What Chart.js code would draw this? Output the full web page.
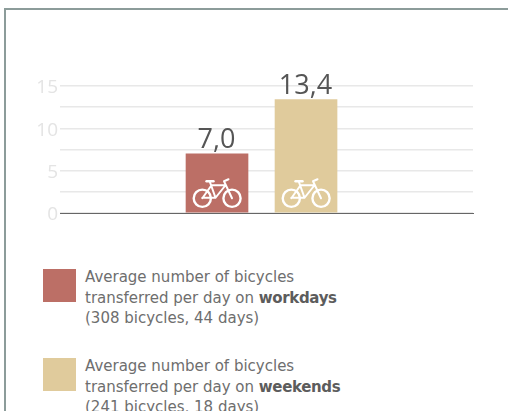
<!DOCTYPE html>
<html>
<head>
<meta charset="utf-8">
<script src="https://cdn.jsdelivr.net/npm/chart.js@4"></script>
<style>
  html, body { margin: 0; padding: 0; background: #fff; overflow: hidden; }
  body { width: 508px; height: 411px; position: relative; font-family: "DejaVu Sans", sans-serif; }
  #frame { position: absolute; left: 4px; top: 8px; width: 520px; height: 420px; border: 2px solid #8c9c9a; }
  #chartBox { position: absolute; left: 0; top: 0; width: 508px; height: 240px; }
  .legend { position: absolute; left: 85px; font-size: 15px; line-height: 20.6px; color: #6e6e6e; white-space: nowrap; }
  .legend b { color: #5c5c5c; letter-spacing: -0.35px; }
  .swatch { position: absolute; left: 43px; width: 33px; height: 33px; }
</style>
</head>
<body>
<div id="frame"></div>
<div id="chartBox"><canvas id="chart"></canvas></div>
<div class="swatch" id="swatch0" style="top:269px"></div>
<div class="legend" id="legend0" style="top:267px"></div>
<div class="swatch" id="swatch1" style="top:358px"></div>
<div class="legend" id="legend1" style="top:356px"></div>
<script>
const categories = ["workdays", "weekends"];
const slots = [1, 2];
const values = [7.0, 13.4];
const valueLabels = ["7,0", "13,4"];
const totals = ["(308 bicycles, 44 days)", "(241 bicycles, 18 days)"];
const barColors = ["#bc6f66", "#e0cb9c"];
const tickLabels = [0, 5, 10, 15];

categories.forEach((name, i) => {
  document.querySelector("#swatch" + i).style.background = barColors[i];
  document.querySelector("#legend" + i).innerHTML =
    `Average number of bicycles<br>transferred per day on <b>${name}</b><br>${totals[i]}`;
});

// bicycle glyph, drawn relative to the middle of the bar foot
function drawBike(ctx, cx, base) {
  ctx.save();
  ctx.translate(cx, base);
  ctx.strokeStyle = "#fff";
  ctx.lineCap = "round";
  ctx.lineJoin = "round";
  ctx.lineWidth = 2.4;
  [[-14.7, -14], [15, -14]].forEach(([x, y]) => {
    ctx.beginPath();
    ctx.arc(x, y, 8.6, 0, Math.PI * 2);
    ctx.stroke();
  });
  ctx.lineWidth = 2;
  ctx.beginPath();
  ctx.moveTo(-14.7, -14); ctx.lineTo(-5.5, -27);   // seat stay
  ctx.lineTo(8.5, -27);                            // top tube
  ctx.lineTo(-1.5, -14.5);                         // down tube
  ctx.lineTo(-14.7, -14.5);                        // chain stay
  ctx.moveTo(-7, -30); ctx.lineTo(-1.5, -14.5);    // seat tube
  ctx.moveTo(7, -31); ctx.lineTo(15, -14);         // fork
  ctx.moveTo(7, -31); ctx.lineTo(11.5, -33);       // handlebar
  ctx.stroke();
  ctx.lineWidth = 2.4;
  ctx.beginPath();
  ctx.moveTo(-10.5, -31); ctx.lineTo(-3.5, -31);   // saddle
  ctx.stroke();
  ctx.restore();
}

const barDecorations = {
  id: "barDecorations",
  afterDatasetsDraw(chart) {
    const ctx = chart.ctx;
    chart.getDatasetMeta(0).data.forEach((bar, i) => {
      drawBike(ctx, bar.x, bar.base);
      ctx.save();
      ctx.font = '27px "Open Sans"';
      ctx.fillStyle = "#555555";
      ctx.textAlign = "center";
      ctx.textBaseline = "alphabetic";
      ctx.fillText(valueLabels[i], bar.x - 0.5, bar.y - 6);
      ctx.restore();
    });
  }
};

new Chart(document.querySelector("#chart"), {
  type: "bar",
  data: {
    datasets: [{
      data: slots.map((slot, i) => ({ x: slot, y: values[i] })),
      backgroundColor: barColors,
      barThickness: 62,
      borderWidth: 0
    }]
  },
  options: {
    responsive: true,
    maintainAspectRatio: false,
    animation: false,
    layout: { padding: { top: 86, right: 35, bottom: 19, left: 0 } },
    plugins: { legend: { display: false }, tooltip: { enabled: false } },
    scales: {
      x: {
        type: "linear",
        offset: false,
        min: -0.764,
        max: 3.876,
        grid: { display: false },
        border: { color: "#666666", width: 1 },
        ticks: { display: false }
      },
      y: {
        min: 0,
        max: 15,
        afterFit: scale => { scale.width = 60; },
        border: { display: false },
        grid: { color: "#e8e8e8", lineWidth: 1.5, drawTicks: false },
        ticks: {
          stepSize: 2.5,
          autoSkip: false,
          padding: 2,
          labelOffset: 2,
          color: "#e4e4e4",
          font: { family: "Open Sans", size: 19 },
          callback: value => tickLabels.includes(value) ? String(value) : ""
        }
      }
    }
  },
  plugins: [barDecorations]
});
</script>
</body>
</html>
